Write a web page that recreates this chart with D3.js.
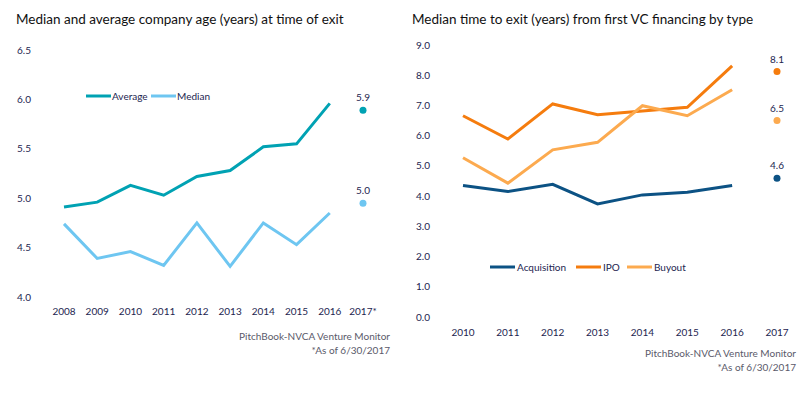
<!DOCTYPE html>
<html>
<head>
<meta charset="utf-8">
<script src="https://cdn.jsdelivr.net/npm/d3@7"></script>
<style>
  body { margin: 0; background: #fff; }
  svg text { font-family: Lato, "Open Sans", sans-serif; }
  .tick-label { font-size: 10px; fill: #1d2550; }
  .title { font-size: 13.5px; fill: #111; }
  .source { font-size: 10px; fill: #5a5a6a; }
  .legend { font-size: 10px; fill: #1d2550; }
</style>
</head>
<body>
<svg id="chart" width="811" height="398"></svg>
<script>
// ---- left chart data ----
const ageYears = ["2008", "2009", "2010", "2011", "2012", "2013", "2014", "2015", "2016", "2017*"];
const ageAverage = [4.91, 4.96, 5.13, 5.03, 5.22, 5.28, 5.52, 5.55, 5.96];
const ageMedian = [4.74, 4.39, 4.46, 4.32, 4.75, 4.31, 4.75, 4.53, 4.85];
const age2017 = [{name: "Average", value: 5.89, label: "5.9"}, {name: "Median", value: 4.95, label: "5.0"}];
const ageTicks = [4.0, 4.5, 5.0, 5.5, 6.0, 6.5];

// ---- right chart data ----
const exitYears = ["2010", "2011", "2012", "2013", "2014", "2015", "2016", "2017"];
const acquisition = [4.35, 4.15, 4.39, 3.74, 4.04, 4.13, 4.35];
const ipo = [6.66, 5.89, 7.05, 6.69, 6.82, 6.94, 8.31];
const buyout = [5.27, 4.43, 5.53, 5.78, 6.99, 6.66, 7.52];
const exit2017 = [
    {name: "Acquisition", value: 4.59, label: "4.6"},
    {name: "IPO", value: 8.12, label: "8.1"},
    {name: "Buyout", value: 6.5, label: "6.5"}
];
const exitTicks = [0, 1, 2, 3, 4, 5, 6, 7, 8, 9];

const colors = {
    Average: "#00a2b3", Median: "#6ec6f1",
    Acquisition: "#0c5284", IPO: "#f57c0e", Buyout: "#fcaa4f"
};

const svg = d3.select("#chart");

// ================= left chart =================
{
    let g = svg.append("g");
    let x = d3.scalePoint().domain(ageYears).range([64, 363]);
    let y = d3.scaleLinear().domain([4.0, 6.5]).range([297, 50]);

    g.append("text").attr("class", "title").attr("x", 16).attr("y", 24)
        .text("Median and average company age (years) at time of exit");

    g.selectAll(".ytick").data(ageTicks).enter().append("text")
        .attr("class", "tick-label").attr("x", 17).attr("y", d => y(d) + 3.5)
        .text(d => d.toFixed(1));

    g.selectAll(".xtick").data(ageYears).enter().append("text")
        .attr("class", "tick-label").attr("text-anchor", "middle")
        .attr("x", d => x(d)).attr("y", 315)
        .text(d => d);

    let line = d3.line().x((d, i) => x(ageYears[i])).y(d => y(d));
    [["Median", ageMedian], ["Average", ageAverage]].forEach(([name, vals]) => {
        g.append("path").datum(vals).attr("d", line)
            .attr("fill", "none").attr("stroke", colors[name]).attr("stroke-width", 3);
    });

    age2017.forEach(d => {
        g.append("circle").attr("cx", x("2017*")).attr("cy", y(d.value)).attr("r", 3.5)
            .attr("fill", colors[d.name]);
        g.append("text").attr("class", "tick-label").attr("text-anchor", "middle")
            .attr("x", x("2017*")).attr("y", y(d.value) - 9).text(d.label);
    });

    // legend
    let leg = [{name: "Average", x: 86}, {name: "Median", x: 151}];
    leg.forEach(d => {
        g.append("line").attr("x1", d.x).attr("x2", d.x + 25).attr("y1", 96).attr("y2", 96)
            .attr("stroke", colors[d.name]).attr("stroke-width", 3);
        g.append("text").attr("class", "legend").attr("x", d.x + 26).attr("y", 99.5).text(d.name);
    });

    g.append("text").attr("class", "source").attr("text-anchor", "end").attr("x", 390).attr("y", 340)
        .text("PitchBook-NVCA Venture Monitor");
    g.append("text").attr("class", "source").attr("text-anchor", "end").attr("x", 390).attr("y", 354)
        .text("*As of 6/30/2017");
}

// ================= right chart =================
{
    let g = svg.append("g");
    let x = d3.scalePoint().domain(exitYears).range([463, 777]);
    let y = d3.scaleLinear().domain([0, 9]).range([317, 45]);

    g.append("text").attr("class", "title").attr("x", 412).attr("y", 24)
        .text("Median time to exit (years) from first VC financing by type");

    g.selectAll(".ytick").data(exitTicks).enter().append("text")
        .attr("class", "tick-label").attr("x", 416).attr("y", d => y(d) + 3.5)
        .text(d => d.toFixed(1));

    g.selectAll(".xtick").data(exitYears).enter().append("text")
        .attr("class", "tick-label").attr("text-anchor", "middle")
        .attr("x", d => x(d)).attr("y", 336)
        .text(d => d);

    let line = d3.line().x((d, i) => x(exitYears[i])).y(d => y(d));
    [["Acquisition", acquisition], ["IPO", ipo], ["Buyout", buyout]].forEach(([name, vals]) => {
        g.append("path").datum(vals).attr("d", line)
            .attr("fill", "none").attr("stroke", colors[name]).attr("stroke-width", 3);
    });

    exit2017.forEach(d => {
        g.append("circle").attr("cx", x("2017")).attr("cy", y(d.value)).attr("r", 3.5)
            .attr("fill", colors[d.name]);
        g.append("text").attr("class", "tick-label").attr("text-anchor", "middle")
            .attr("x", x("2017")).attr("y", y(d.value) - 9).text(d.label);
    });

    let leg = [{name: "Acquisition", x: 490}, {name: "IPO", x: 576}, {name: "Buyout", x: 627}];
    leg.forEach(d => {
        g.append("line").attr("x1", d.x).attr("x2", d.x + 25).attr("y1", 267).attr("y2", 267)
            .attr("stroke", colors[d.name]).attr("stroke-width", 3);
        g.append("text").attr("class", "legend").attr("x", d.x + 27).attr("y", 270.5).text(d.name);
    });

    g.append("text").attr("class", "source").attr("text-anchor", "end").attr("x", 796).attr("y", 357)
        .text("PitchBook-NVCA Venture Monitor");
    g.append("text").attr("class", "source").attr("text-anchor", "end").attr("x", 796).attr("y", 371)
        .text("*As of 6/30/2017");
}
</script>
</body>
</html>
